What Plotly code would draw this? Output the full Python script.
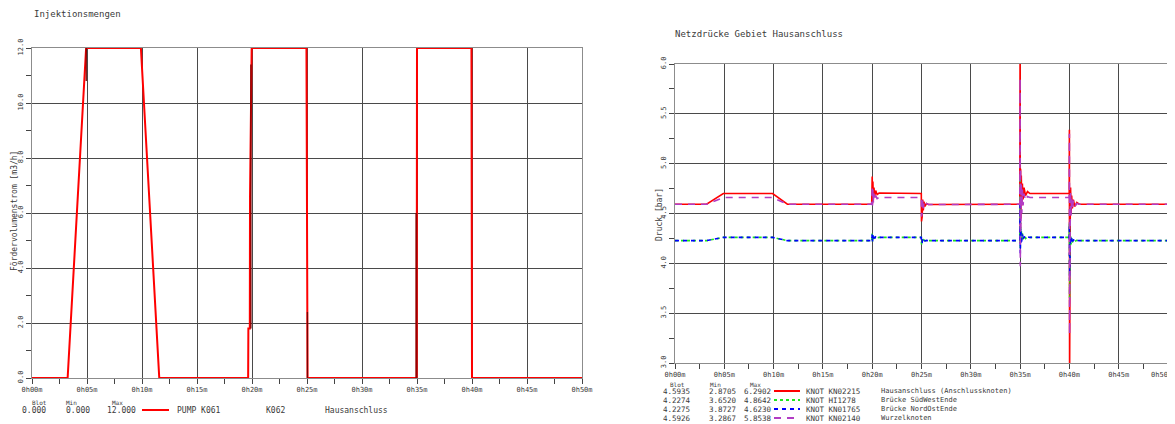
import plotly.graph_objects as go

# page body has an 8px margin: figure is drawn at (8, 8) inside the 1175x424 window
OFF = 8
W, H = 1175 - OFF, 424 - OFF

# ---------------- Left chart data: Injektionsmengen ----------------
T_PUMP = [0, 3.24, 4.92, 9.9, 11.57, 19.65, 19.67, 19.8, 19.82, 19.9, 19.97,
          24.95, 24.97, 25.02, 25.05, 34.97, 35.0, 39.95, 40.0, 50]
Q_PUMP = [0, 0, 12, 12, 0, 0, 1.8, 1.8, 6.6, 11.4, 12,
          12, 7.2, 2.4, 0, 0, 12, 12, 0, 0]
# dark secondary series (K062) visible only as short vertical strokes
T_K062 = [4.93, 4.93, None, 19.9, 19.9, None, 25.04, 25.04, None, 34.92, 34.92]
Q_K062 = [10.8, 12.0, None, 1.8, 11.4, None, 0.0, 2.4, None, 0.0, 6.0]

LEFT_XTICKS = [0, 5, 10, 15, 20, 25, 30, 35, 40, 45, 50]
LEFT_XLABELS = ["0h00m", "0h05m", "0h10m", "0h15m", "0h20m", "0h25m",
                "0h30m", "0h35m", "0h40m", "0h45m", "0h50m"]
LEFT_YTICKS = [0, 2, 4, 6, 8, 10, 12]

# ---------------- Right chart data: Netzdrücke ----------------
T_P = [0, 3.2, 4.9, 9.9, 11.4, 19.95, 20.0, 20.03, 20.07, 20.12, 20.18, 20.25, 20.35, 20.5, 20.7,
       24.98, 25.0, 25.03, 25.07, 25.12, 25.18, 25.25, 25.35, 25.5, 25.7,
       34.97, 35.0, 35.02, 35.05, 35.08, 35.12, 35.17, 35.23, 35.3, 35.4, 35.55, 35.75, 36.0,
       39.98, 40.0, 40.02, 40.05, 40.08, 40.12, 40.17, 40.23, 40.3, 40.4, 40.55, 40.75, 41.0, 50.0]
P_HAUS = [4.5935, 4.5935, 4.70, 4.70, 4.5935, 4.5935, 4.87, 4.60, 4.82, 4.64, 4.76, 4.67, 4.73, 4.69, 4.705,
          4.70, 4.42, 4.68, 4.47, 4.64, 4.53, 4.62, 4.57, 4.60, 4.59,
          4.5935, 6.2902, 4.20, 4.95, 4.45, 4.88, 4.58, 4.80, 4.64, 4.76, 4.68, 4.72, 4.70,
          4.70, 5.34, 2.8705, 4.88, 4.40, 4.76, 4.50, 4.68, 4.55, 4.64, 4.57, 4.61, 4.5935, 4.5935]
P_SW = [4.2274, 4.2274, 4.26, 4.26, 4.2274, 4.2274, 4.30, 4.22, 4.29, 4.24, 4.27, 4.25, 4.265, 4.255, 4.26,
        4.26, 4.19, 4.25, 4.20, 4.24, 4.215, 4.235, 4.225, 4.23, 4.2274,
        4.2274, 4.8642, 4.14, 4.41, 4.20, 4.33, 4.22, 4.30, 4.24, 4.28, 4.25, 4.265, 4.26,
        4.26, 4.40, 3.6520, 4.33, 4.15, 4.28, 4.19, 4.25, 4.21, 4.24, 4.22, 4.23, 4.2274, 4.2274]
P_NO = [4.2275, 4.2275, 4.26, 4.26, 4.2275, 4.2275, 4.29, 4.22, 4.28, 4.24, 4.27, 4.25, 4.265, 4.255, 4.26,
        4.26, 4.20, 4.25, 4.21, 4.24, 4.22, 4.235, 4.225, 4.23, 4.2275,
        4.2275, 4.6230, 4.10, 4.36, 4.19, 4.31, 4.22, 4.29, 4.24, 4.27, 4.25, 4.265, 4.26,
        4.26, 4.38, 3.8727, 4.31, 4.16, 4.27, 4.20, 4.25, 4.21, 4.24, 4.22, 4.23, 4.2275, 4.2275]
P_WURZ = [4.5926, 4.5926, 4.66, 4.66, 4.5926, 4.5926, 4.78, 4.58, 4.74, 4.61, 4.70, 4.63, 4.68, 4.65, 4.66,
          4.66, 4.47, 4.65, 4.50, 4.63, 4.55, 4.61, 4.58, 4.60, 4.59,
          4.5926, 5.8538, 3.97, 4.95, 4.35, 4.80, 4.50, 4.74, 4.58, 4.70, 4.63, 4.67, 4.66,
          4.66, 5.30, 3.2867, 4.80, 4.40, 4.72, 4.48, 4.66, 4.54, 4.63, 4.57, 4.60, 4.5926, 4.5926]

RIGHT_YTICKS = [3.0, 3.5, 4.0, 4.5, 5.0, 5.5, 6.0]

LEFT_LEGEND = [("0.000", "0.000", "12.000", "PUMP K061", "K062", "Hausanschluss")]
RIGHT_LEGEND = [
    ("4.5935", "2.8705", "6.2902", "KNOT KN02215", "Hausanschluss (Anschlussknoten)"),
    ("4.2274", "3.6520", "4.8642", "KNOT HI1278", "Brücke SüdWestEnde"),
    ("4.2275", "3.8727", "4.6230", "KNOT KN01765", "Brücke NordOstEnde"),
    ("4.5926", "3.2867", "5.8538", "KNOT KN02140", "Wurzelknoten"),
]

RED = "#ff0000"
GREEN = "#1ee61e"
BLUE = "#0000ff"
PURPLE = "#b23cc4"
TXT = "#3a3a3a"
GRID = "#4a4a4a"
FONT = "DejaVu Sans Mono"


def px(x):
    return (x - OFF) / W


def py(y):
    return 1 - (y - OFF) / H


fig = go.Figure()

# left traces
fig.add_trace(go.Scatter(x=T_PUMP, y=Q_PUMP, mode="lines", line=dict(color=RED, width=2),
                         xaxis="x", yaxis="y", showlegend=False))
fig.add_trace(go.Scatter(x=T_K062, y=Q_K062, mode="lines", line=dict(color="#7a0000", width=1.3),
                         xaxis="x", yaxis="y", showlegend=False, connectgaps=False))

# right traces
fig.add_trace(go.Scatter(x=T_P, y=P_HAUS, mode="lines", line=dict(color=RED, width=1.6),
                         xaxis="x2", yaxis="y2", showlegend=False))
fig.add_trace(go.Scatter(x=T_P, y=P_SW, mode="lines", line=dict(color=GREEN, width=1.6, dash="dot"),
                         xaxis="x2", yaxis="y2", showlegend=False))
fig.add_trace(go.Scatter(x=T_P, y=P_NO, mode="lines", line=dict(color=BLUE, width=1.6, dash="4px,4px"),
                         xaxis="x2", yaxis="y2", showlegend=False))
fig.add_trace(go.Scatter(x=T_P, y=P_WURZ, mode="lines", line=dict(color=PURPLE, width=1.6, dash="7px,6px"),
                         xaxis="x2", yaxis="y2", showlegend=False))

axis_common = dict(showline=True, linecolor="#8c8c8c", linewidth=1, mirror=True,
                   showgrid=True, gridcolor=GRID, gridwidth=1, zeroline=False,
                   ticks="outside", ticklen=5, tickcolor="#444", tickwidth=1, automargin=False,
                   ticklabeloverflow="allow",
                   tickfont=dict(family=FONT, size=7, color=TXT))

# right x axis: last label is drawn separately, right-aligned to the window edge
RIGHT_XLABELS = LEFT_XLABELS[:-1] + [""]

fig.update_layout(
    width=W, height=H, margin=dict(l=0, r=0, t=0, b=0, autoexpand=False),
    paper_bgcolor="white", plot_bgcolor="white", showlegend=False,
    xaxis=dict(domain=[px(32), px(582)], range=[0, 50], tickvals=LEFT_XTICKS, ticktext=LEFT_XLABELS,
               minor=dict(dtick=2.5, tick0=0, ticks="outside", ticklen=5, tickcolor="#444", showgrid=False),
               anchor="y", **axis_common),
    yaxis=dict(domain=[py(378), py(48)], range=[0, 12], tickvals=LEFT_YTICKS, tickformat=".1f",
               tickangle=-90,
               minor=dict(dtick=1, tick0=0, ticks="outside", ticklen=5, tickcolor="#444", showgrid=False),
               anchor="x", **axis_common),
    xaxis2=dict(domain=[px(675), px(1168)], range=[0, 50], tickvals=LEFT_XTICKS, ticktext=RIGHT_XLABELS,
                minor=dict(dtick=2.5, tick0=0, ticks="outside", ticklen=5, tickcolor="#444", showgrid=False),
                anchor="y2", **axis_common),
    yaxis2=dict(domain=[py(363), py(64)], range=[3.0, 6.0], tickvals=RIGHT_YTICKS, tickformat=".1f",
                tickangle=-90,
                minor=dict(dtick=0.25, tick0=3.0, ticks="outside", ticklen=5, tickcolor="#444", showgrid=False),
                anchor="x2", **axis_common),
)

ann = []


def text(x, y, s, size=8, anchor="left", angle=0):
    ann.append(dict(x=px(x), y=py(y), xref="paper", yref="paper", text=s, showarrow=False,
                    xanchor=anchor, yanchor="middle", textangle=angle,
                    font=dict(family=FONT, size=size, color=TXT)))


# titles
text(32, 14, "Injektionsmengen", size=9)
text(673, 34, "Netzdrücke Gebiet Hausanschluss", size=9)
# axis titles
text(15, 211, "Fördervolumenstrom [m3/h]", size=8, anchor="center", angle=-90)
text(659, 215, "Druck [bar]", size=8, anchor="center", angle=-90)
# last right x tick label kept inside the window
text(1174, 375, LEFT_XLABELS[-1], size=7, anchor="right")

shapes = []
# left legend
text(39, 402, "Blot", size=6, anchor="center")
text(71, 402, "Min", size=6, anchor="center")
text(117, 402, "Max", size=6, anchor="center")
for blot, mn, mx, name, name2, desc in LEFT_LEGEND:
    text(34, 410, blot, size=8, anchor="center")
    text(78, 410, mn, size=8, anchor="center")
    text(121, 410, mx, size=8, anchor="center")
    shapes.append(dict(type="line", xref="paper", yref="paper", x0=px(142), x1=px(169),
                       y0=py(410), y1=py(410), line=dict(color=RED, width=2)))
    text(175, 410, name, size=8)
    text(264, 410, name2, size=8)
    text(323, 410, desc, size=8)

# right legend
text(677, 384, "Blot", size=6, anchor="center")
text(715, 384, "Min", size=6, anchor="center")
text(755, 384, "Max", size=6, anchor="center")
styles = [(RED, "solid"), (GREEN, "dot"), (BLUE, "4px,4px"), (PURPLE, "7px,6px")]
for i, (row, st) in enumerate(zip(RIGHT_LEGEND, styles)):
    yy = 391 + i * 9.0
    blot, mn, mx, node, desc = row
    text(661, yy, blot, size=7.5)
    text(707, yy, mn, size=7.5)
    text(742, yy, mx, size=7.5)
    shapes.append(dict(type="line", xref="paper", yref="paper", x0=px(774), x1=px(800),
                       y0=py(yy), y1=py(yy), line=dict(color=st[0], width=2, dash=st[1])))
    text(804, yy, node, size=7.5)
    text(879, yy, desc, size=7)

fig.update_layout(annotations=ann, shapes=shapes)
fig.write_html("out.html")
